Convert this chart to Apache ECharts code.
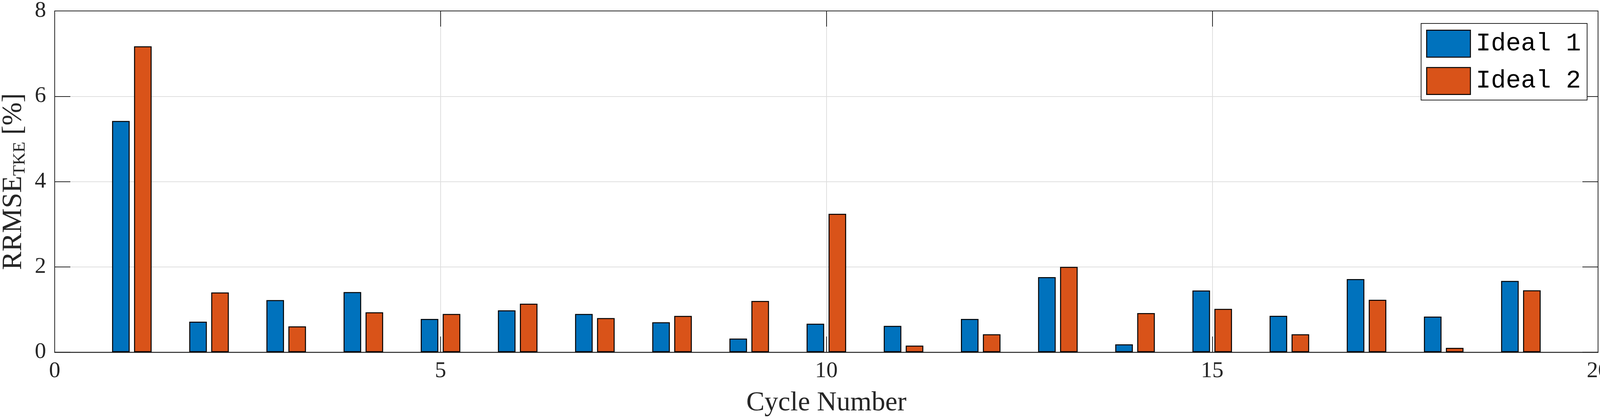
<!DOCTYPE html>
<html>
<head>
<meta charset="utf-8">
<script src="https://cdn.jsdelivr.net/npm/echarts@6/dist/echarts.min.js"></script>
<style>
html,body{margin:0;padding:0;background:#fff;}
#c{width:4125px;height:1072px;}
</style>
</head>
<body>
<div id="c"></div>
<script>
const cycles = [1,2,3,4,5,6,7,8,9,10,11,12,13,14,15,16,17,18,19];
const ideal1 = [5.42,0.715,1.22,1.41,0.78,0.98,0.895,0.70,0.318,0.666,0.617,0.78,1.76,0.183,1.445,0.852,1.714,0.834,1.67];
const ideal2 = [7.17,1.40,0.605,0.935,0.895,1.137,0.80,0.85,1.20,3.245,0.153,0.42,2.0,0.917,1.014,0.42,1.228,0.10,1.45];
const seriesNames = ['Ideal 1','Ideal 2'];
const xTicks = {min:0, max:20, interval:5};
const yTicks = {min:0, max:8, interval:2};

const TXT = '#262626';
const serif = '"Liberation Serif", "DejaVu Serif", serif';
const chart = echarts.init(document.getElementById('c'), null, {renderer:'canvas'});

const boxAxis = {
  axisLine:{show:true, onZero:false, lineStyle:{color:TXT, width:2}},
  axisTick:{show:true, inside:true, length:40, lineStyle:{color:TXT, width:2}},
  axisLabel:{show:false},
  splitLine:{show:false}
};

chart.setOption({
  animation:false,
  backgroundColor:'#fff',
  color:['#0072BD','#D95319'],
  grid:{left:140, right:34, top:28, bottom:171, containLabel:false, outerBoundsMode:'none'},
  graphic:[
    {type:'rect', left:3637, top:59, z:3,
     shape:{x:0, y:0, width:425, height:196},
     style:{fill:'#fff', stroke:TXT, lineWidth:2}}
  ],
  legend:{
    orient:'vertical', left:3651, top:76, align:'left', z:5,
    padding:0,
    itemWidth:112, itemHeight:69, itemGap:24,
    icon:'rect',
    itemStyle:{borderColor:'#000', borderWidth:2.5},
    textStyle:{fontFamily:'"Liberation Mono", "DejaVu Sans Mono", monospace', fontSize:64, color:'#000', padding:[0,0,0,9]},
    data:seriesNames
  },
  xAxis:[
    {type:'value', position:'bottom', min:xTicks.min, max:xTicks.max, interval:xTicks.interval,
     name:'Cycle Number', nameLocation:'middle', nameGap:96,
     nameTextStyle:{fontFamily:serif, fontSize:70, color:TXT},
     axisLine:{show:true, onZero:false, lineStyle:{color:TXT, width:2.5}},
     axisTick:{show:true, inside:true, length:40, lineStyle:{color:TXT, width:2}},
     axisLabel:{show:true, margin:20, fontFamily:serif, fontSize:58, color:TXT, showMinLabel:true, showMaxLabel:true},
     splitLine:{show:true, lineStyle:{color:'#dfdfdf', width:2}}
    },
    Object.assign({type:'value', position:'top', min:xTicks.min, max:xTicks.max, interval:xTicks.interval}, boxAxis)
  ],
  yAxis:[
    {type:'value', position:'left', min:yTicks.min, max:yTicks.max, interval:yTicks.interval,
     name:'{a|RRMSE}{b|TKE}{a| [%]}', nameLocation:'middle', nameGap:66,
     nameTextStyle:{
       rich:{
         a:{fontFamily:serif, fontSize:71, color:TXT, verticalAlign:'top'},
         b:{fontFamily:serif, fontSize:45, color:TXT, verticalAlign:'top', padding:[29,0,0,0]}
       }
     },
     axisLine:{show:true, onZero:false, lineStyle:{color:TXT, width:2}},
     axisTick:{show:true, inside:true, length:40, lineStyle:{color:TXT, width:2}},
     axisLabel:{show:true, margin:22, fontFamily:serif, fontSize:58, color:TXT, showMinLabel:true, showMaxLabel:true},
     splitLine:{show:true, lineStyle:{color:'#dfdfdf', width:2}}
    },
    Object.assign({type:'value', position:'right', min:yTicks.min, max:yTicks.max, interval:yTicks.interval}, boxAxis)
  ],
  series:[
    {name:seriesNames[0], type:'bar', xAxisIndex:0, yAxisIndex:0, barWidth:45, barGap:'25%',
     itemStyle:{borderColor:'#000', borderWidth:2.5},
     data:cycles.map((c,i)=>[c, ideal1[i]])},
    {name:seriesNames[1], type:'bar', xAxisIndex:0, yAxisIndex:0, barWidth:45, barGap:'25%',
     itemStyle:{borderColor:'#000', borderWidth:2.5},
     data:cycles.map((c,i)=>[c, ideal2[i]])}
  ]
});
</script>
</body>
</html>
